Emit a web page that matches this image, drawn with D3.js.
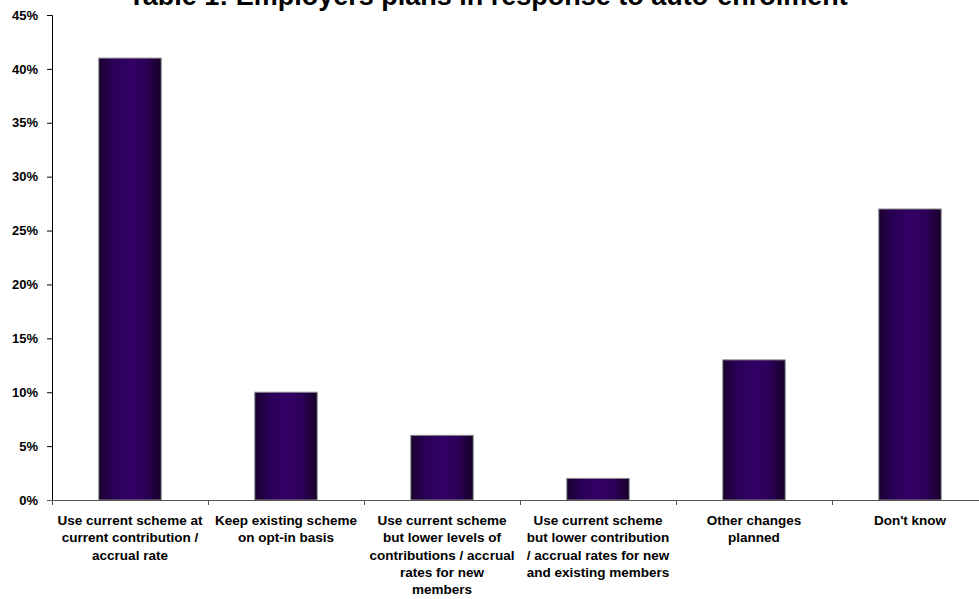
<!DOCTYPE html>
<html>
<head>
<meta charset="utf-8">
<script src="https://cdn.jsdelivr.net/npm/d3@7"></script>
<style>
  body { margin: 0; background: #fff; }
  text { font-family: "Liberation Sans", Arial, sans-serif; }
</style>
</head>
<body>
<div class="chart"></div>
<script>
// data
var categories = [
  ["Use current scheme at", "current contribution /", "accrual rate"],
  ["Keep existing scheme", "on opt-in basis"],
  ["Use current scheme", "but lower levels of", "contributions / accrual", "rates for new", "members"],
  ["Use current scheme", "but lower contribution", "/ accrual rates for new", "and existing members"],
  ["Other changes", "planned"],
  ["Don't know"]
];
var values = [41, 10, 6, 2, 13, 27];
var yTicks = [0, 5, 10, 15, 20, 25, 30, 35, 40, 45];

var W = 979, H = 599;
var x0 = 52, x1 = 988, y0 = 500, y1 = 15;

var svg = d3.select("div.chart").append("svg")
    .attr("width", W).attr("height", H);

// bar gradient, dark edges, lighter middle
var defs = svg.append("defs");
var grad = defs.append("linearGradient").attr("id", "barGrad")
    .attr("x1", "0%").attr("x2", "100%").attr("y1", "0%").attr("y2", "0%");
grad.append("stop").attr("offset", "0%").attr("stop-color", "#1a0030");
grad.append("stop").attr("offset", "20%").attr("stop-color", "#280052");
grad.append("stop").attr("offset", "50%").attr("stop-color", "#330066");
grad.append("stop").attr("offset", "75%").attr("stop-color", "#2c0058");
grad.append("stop").attr("offset", "100%").attr("stop-color", "#160028");

var x = d3.scaleBand().domain(d3.range(categories.length))
    .range([x0, x1]).paddingInner(0.6).paddingOuter(0.3);
var xt = d3.scaleBand().domain(d3.range(categories.length)).range([x0, x1]);
var y = d3.scaleLinear().domain([0, 45]).range([y0, y1]);

// title (cut off at top in the original)
svg.append("text")
    .attr("x", 488).attr("y", 5)
    .attr("text-anchor", "middle")
    .attr("font-size", "27px").attr("font-weight", "bold")
    .text("Table 1: Employers plans in response to auto-enrolment");

// bars
svg.selectAll(".bar").data(values).enter().append("rect")
    .attr("class", "bar")
    .attr("x", function(d, i){ return x(i); })
    .attr("y", function(d){ return y(d); })
    .attr("width", x.bandwidth())
    .attr("height", function(d){ return y0 - y(d); })
    .attr("fill", "url(#barGrad)")
    .attr("stroke", "#888").attr("stroke-width", 1);

// y axis
var yAxis = d3.axisLeft(y).tickValues(yTicks)
    .tickFormat(function(d){ return d + "%"; })
    .tickSize(5).tickPadding(9);
var gy = svg.append("g").attr("transform", "translate(" + x0 + ",0)").call(yAxis);
gy.select(".domain").attr("stroke", "#000");
gy.selectAll("line").attr("stroke", "#000");
gy.selectAll("text").attr("font-size", "13px").attr("font-weight", "bold")
    .attr("font-family", "Liberation Sans, Arial, sans-serif").attr("fill", "#000");

// x axis line + category ticks
svg.append("line").attr("x1", x0 - 5).attr("x2", W).attr("y1", y0 + 0.5).attr("y2", y0 + 0.5)
    .attr("stroke", "#555");
svg.selectAll(".xtick").data(d3.range(categories.length)).enter().append("line")
    .attr("x1", function(i){ return xt(i) + 0.5; })
    .attr("x2", function(i){ return xt(i) + 0.5; })
    .attr("y1", y0).attr("y2", y0 + 5)
    .attr("stroke", "#555");

// category labels
var lab = svg.selectAll(".xlab").data(categories).enter().append("text")
    .attr("class", "xlab")
    .attr("text-anchor", "middle")
    .attr("font-size", "13.5px").attr("font-weight", "bold");
lab.selectAll("tspan").data(function(d, i){ return d.map(function(s){ return {s: s, i: i}; }); })
    .enter().append("tspan")
    .attr("x", function(d){ return xt(d.i) + xt.bandwidth() / 2; })
    .attr("y", function(d, j){ return 525 + j * 17.3; })
    .text(function(d){ return d.s; });
</script>
</body>
</html>
